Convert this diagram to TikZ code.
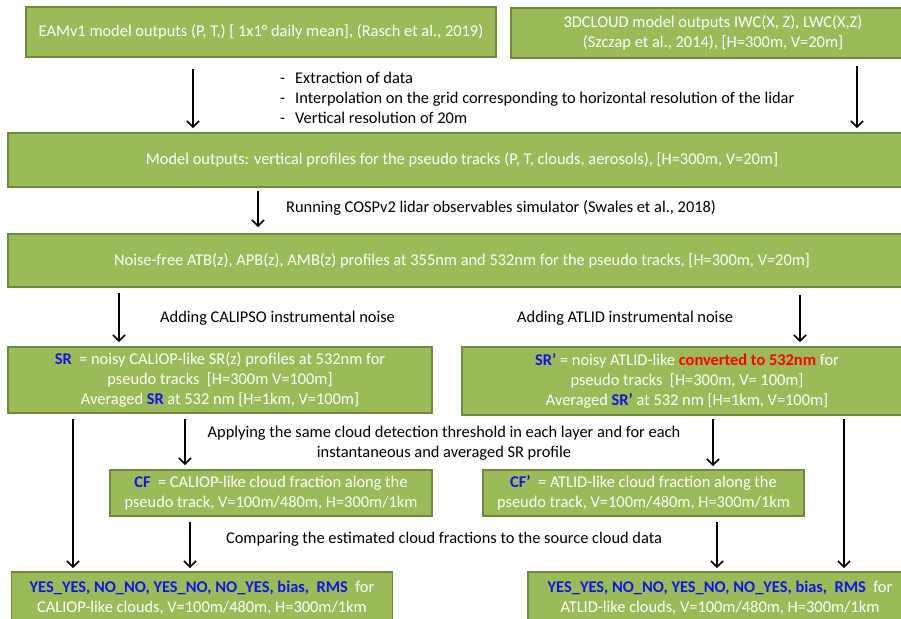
\documentclass[tikz,border=0pt]{standalone}
\usepackage{fontspec}
\setmainfont{Carlito}
\usetikzlibrary{arrows.meta}

\definecolor{boxgreen}{HTML}{9BBB59}
\definecolor{boxedge}{HTML}{71893F}
\definecolor{keyblue}{HTML}{1414E6}
\definecolor{keyred}{HTML}{FF0000}

\tikzset{
  box/.style={draw=boxedge, line width=1.8pt, fill=boxgreen, text=white,
    align=center, inner sep=0pt, font=\fontsize{16.4}{20}\selectfont},
  flow/.style={-{Straight Barb[length=6pt,width=12pt]}, line width=1.6pt,
    shorten <=5pt, shorten >=4pt},
  note/.style={inner sep=0pt, align=center, font=\fontsize{16.4}{20}\selectfont}
}
\newcommand{\key}[1]{\textcolor{keyblue}{\textbf{#1}}}

\begin{document}
\begin{tikzpicture}[x=1pt,y=-1pt]
    \clip (0,0) rectangle (901,618);

    % columns of the arrows
    \coordinate (C1) at (193,0);
    \coordinate (C2) at (857,0);
    \coordinate (C3) at (258,0);
    \coordinate (C4) at (119,0);
    \coordinate (C5) at (800,0);
    \coordinate (C6) at (73,0);
    \coordinate (C7) at (185,0);
    \coordinate (C8) at (190,0);
    \coordinate (C9) at (713,0);
    \coordinate (C10) at (717,0);
    \coordinate (C11) at (844,0);

    % boxes
    \node [box, minimum width=470pt, minimum height=50pt] (eam) at (261,32)
      {EAMv1 model outputs (P, T,) [ 1x1° daily mean], (Rasch et al., 2019)};
    \node [box, minimum width=404pt, minimum height=50pt] (cloud) at (713,33)
      {3DCLOUD model outputs IWC(X, Z), LWC(X,Z)\\(Szczap et al., 2014), [H=300m, V=20m]};
    \node [box, minimum width=908pt, minimum height=54pt] (model) at (462,160)
      {Model outputs: vertical profiles for the pseudo tracks (P, T, clouds, aerosols), [H=300m, V=20m]};
    \node [box, minimum width=908pt, minimum height=53pt] (noise) at (462,260.5)
      {Noise-free ATB(z), APB(z), AMB(z) profiles at 355nm and 532nm for the pseudo tracks, [H=300m, V=20m]};
    \node [box, minimum width=424pt, minimum height=66pt] (sr) at (220,380)
      {\key{SR}\ \ = noisy CALIOP-like SR(z) profiles at 532nm for\\
       pseudo tracks\ \ [H=300m V=100m]\\
       Averaged \key{SR} at 532 nm [H=1km, V=100m]};
    \node [box, minimum width=450pt, minimum height=68pt] (srp) at (687,381)
      {\key{SR’} = noisy ATLID-like \textcolor{keyred}{\textbf{converted to 532nm}} for\\
       pseudo tracks\ \ [H=300m, V= 100m]\\
       Averaged \key{SR’} at 532 nm [H=1km, V=100m]};
    \node [box, minimum width=322pt, minimum height=46pt] (cf) at (271,493)
      {\key{CF}\ \ = CALIOP-like cloud fraction along the\\
       pseudo track, V=100m/480m, H=300m/1km};
    \node [box, minimum width=321pt, minimum height=46pt] (cfp) at (643.5,493)
      {\key{CF’}\ \ = ATLID-like cloud fraction along the\\
       pseudo track, V=100m/480m, H=300m/1km};
    \node [box, minimum width=381pt, minimum height=52pt] (res) at (202,598)
      {\key{YES\_YES, NO\_NO, YES\_NO, NO\_YES, bias,\ \ RMS}\ \ for\\
       CALIOP-like clouds, V=100m/480m, H=300m/1km};
    \node [box, minimum width=384pt, minimum height=52pt] (resp) at (720,598)
      {\key{YES\_YES, NO\_NO, YES\_NO, NO\_YES, bias,\ \ RMS}\ \ for\\
       ATLID-like clouds, V=100m/480m, H=300m/1km};

    % texts beside the arrows
    \node [note, anchor=west] (steps) at (280,99)
      {\begin{tabular}{@{}l@{\hspace{10pt}}l@{}}
       - & Extraction of data\\
       - & Interpolation on the grid corresponding to horizontal resolution of the lidar\\
       - & Vertical resolution of 20m
       \end{tabular}};
    \node [note, anchor=west] (cosp) at (286,208)
      {Running COSPv2 lidar observables simulator (Swales et al., 2018)};
    \node [note, anchor=west] (calipso) at (160,318) {Adding CALIPSO instrumental noise};
    \node [note, anchor=west] (atlid) at (517,318) {Adding ATLID instrumental noise};
    \node [note] (detect) at (444,443)
      {Applying the same cloud detection threshold in each layer and for each\\
       instantaneous and averaged SR profile};
    \node [note] (compare) at (444,539)
      {Comparing the estimated cloud fractions to the source cloud data};

    % arrows
    \draw [flow, shorten <=11pt] (eam.south -| C1) -- (model.north -| C1);
    \draw [flow, shorten <=7pt] (cloud.south -| C2) -- (model.north -| C2);
    \draw [flow, shorten <=3pt, shorten >=6pt] (model.south -| C3) -- (noise.north -| C3);
    \draw [flow] (noise.south -| C4) -- (sr.north -| C4);
    \draw [flow, shorten <=7pt] (noise.south -| C5) -- (srp.north -| C5);
    \draw [flow, shorten >=3pt] (sr.south -| C6) -- (res.north -| C6);
    \draw [flow] (sr.south -| C7) -- (cf.north -| C7);
    \draw [flow, shorten >=3pt] (cf.south -| C8) -- (res.north -| C8);
    \draw [flow, shorten <=3pt, shorten >=3pt] (srp.south -| C9) -- (cfp.north -| C9);
    \draw [flow, shorten >=3pt] (cfp.south -| C10) -- (resp.north -| C10);
    \draw [flow, shorten <=3pt, shorten >=3pt] (srp.south -| C11) -- (resp.north -| C11);
  \end{tikzpicture}
\end{document}
